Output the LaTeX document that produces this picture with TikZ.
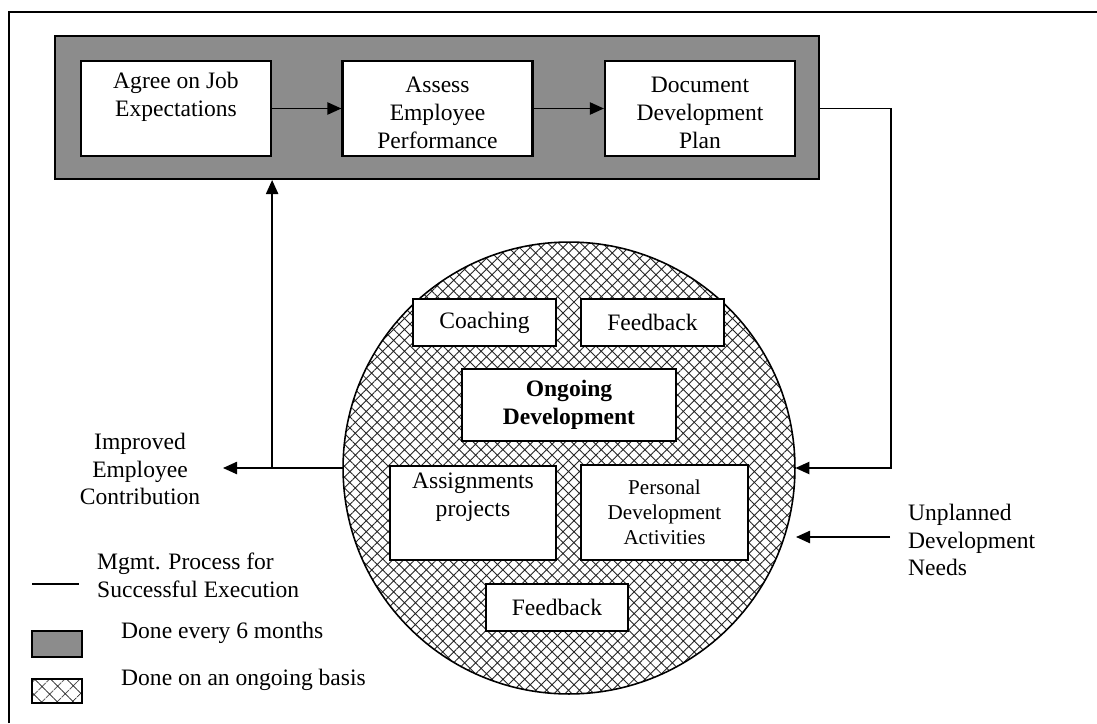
\documentclass[tikz,border=0pt]{standalone}
\usepackage{fontspec}
\setmainfont{Liberation Serif}
\usetikzlibrary{positioning,arrows.meta,patterns.meta}

\begin{document}
\begin{tikzpicture}[
    x=0.02cm, y=-0.02cm,
    font=\fontsize{13.4}{15.9}\selectfont,
    sixmonth/.style={draw, line width=1.2pt, fill=black!45, inner sep=0pt},
    ongoingfill/.style={draw, line width=0.9pt, preaction={fill=white},
        pattern={Hatch[angle=45,distance=4.4pt,line width=0.5pt]}, pattern color=black!85},
    stepbox/.style={draw, line width=1.3pt, fill=white, align=center, inner sep=0pt},
    flow/.style={line width=0.9pt, -{Triangle[length=8pt,width=7pt]}}
]

    \useasboundingbox (0,0) rectangle (1097,723);

    % Page frame, only top and left edges show
    \draw[line width=1.3pt] (9,723) |- (1097,12);

    % Six-monthly management cycle
    \node[sixmonth, minimum width=15.28cm, minimum height=2.86cm] (cycle) at (437,107.5) {};

    \node[stepbox, minimum width=3.8cm, minimum height=1.9cm] (agree) at (176,108.5)
        {\rule{0pt}{14pt}Agree on Job\\Expectations\\\strut};
    \node[stepbox, minimum width=3.8cm, minimum height=1.9cm] (assess) at (437.5,108.5)
        {\rule{0pt}{14pt}Assess\\Employee\\Performance};
    \node[stepbox, minimum width=3.8cm, minimum height=1.9cm] (plan) at (700,108.5)
        {\rule{0pt}{14pt}Document\\Development\\Plan};

    \draw[flow] (agree) -- (assess);
    \draw[flow] (assess) -- (plan);

    % Ongoing development circle
    \node[ongoingfill, circle, inner sep=0pt, minimum size=9.04cm] (dev) at (569,468) {};

    \node[stepbox, minimum width=2.86cm, minimum height=0.94cm] (coach) at (484.5,322.5) {Coaching};
    \node[stepbox, minimum width=2.86cm, minimum height=0.94cm] (feedtop) at (652.5,322.5) {Feedback};
    \node[stepbox, minimum width=4.28cm, minimum height=1.44cm, font=\fontsize{13.4}{15.9}\selectfont\bfseries]
        (ongoing) at (569,405) {Ongoing\\Development};
    \node[stepbox, minimum width=3.32cm, minimum height=1.88cm] (assign) at (473,513)
        {Assignments\\projects\\\strut};
    \node[stepbox, minimum width=3.34cm, minimum height=1.9cm, font=\fontsize{12}{14.2}\selectfont]
        (personal) at (664.5,512.5) {Personal\\Development\\Activities};
    \node[stepbox, minimum width=2.84cm, minimum height=0.94cm] (feedbot) at (557,607.5) {Feedback};

    % Outcome and inputs
    \node[align=center] (improved) at (140,469) {Improved\\Employee\\Contribution};
    \coordinate (imptip) at (223,468);
    \coordinate (feedin) at (891,108.5);
    \node[align=left, anchor=west] (unplanned) at (902,540) {Unplanned\\Development\\Needs};
    \coordinate (unpfrom) at (890,537);
    \coordinate (unptip) at (796,537);

    \draw[flow] (dev.west) -- (imptip);
    \draw[flow] (dev.west -| agree.east) -- (cycle.south -| agree.east);
    \draw[flow] (plan.east -| cycle.east) -- (feedin) |- (dev.east);
    \draw[flow] (unpfrom) -- (unptip);

    % Legend
    \draw[line width=0.9pt] (32,584) -- (79,584);
    \node[align=left, anchor=west] (legline) at (91,575) {Mgmt. Process for\\Successful Execution};
    \node[sixmonth, minimum width=1cm, minimum height=0.52cm] (legsix) at (57,644) {};
    \node[anchor=west] (legsixtxt) at (115,633) {Done every 6 months};
    \node[draw, line width=1.3pt, inner sep=0pt, minimum width=1cm, minimum height=0.48cm,
        preaction={fill=white}, pattern={Hatch[angle=45,distance=6.5pt,line width=0.5pt]},
        pattern color=black!85] (legongoing) at (57,691) {};
    \node[anchor=west] (legongoingtxt) at (115,680) {Done on an ongoing basis};

\end{tikzpicture}
\end{document}
